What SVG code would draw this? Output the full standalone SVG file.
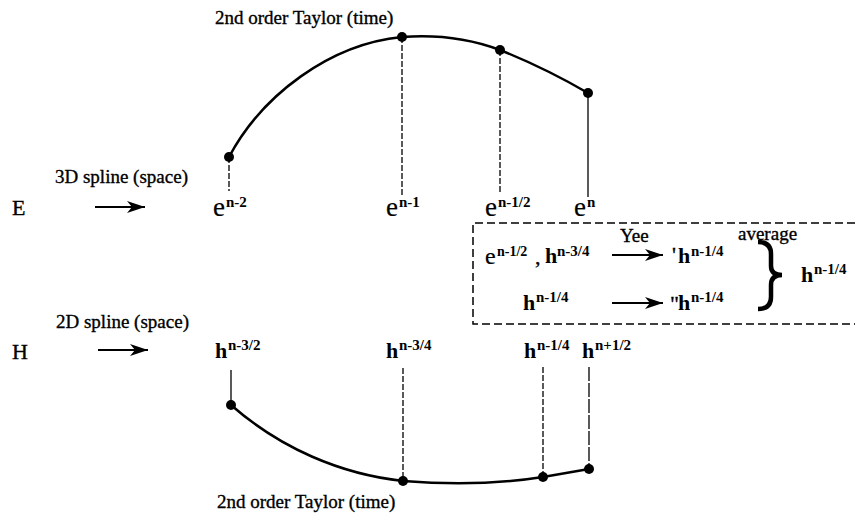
<svg xmlns="http://www.w3.org/2000/svg" width="855" height="516" viewBox="0 0 855 516">
<defs>
<marker id="ah" markerUnits="userSpaceOnUse" markerWidth="20" markerHeight="12" refX="18" refY="6" orient="auto">
<path d="M0,0 L18,6 L0,12 L5,6 Z" fill="#000"/>
</marker>
<style>
text{font-family:"Liberation Serif","Times New Roman",serif;fill:#000;stroke:#000;stroke-width:0.35}
.lbl{font-size:19px}
.big{font-size:22px}
.e{font-size:27px;stroke-width:0.2}
.h{font-size:22px;font-weight:bold;stroke-width:0}
.sup{font-size:15px;font-weight:bold;stroke-width:0}
.curve{fill:none;stroke:#000;stroke-width:2.5}
.dash{stroke:#000;stroke-width:1.3;stroke-dasharray:6 2;fill:none}
.solid{stroke:#000;stroke-width:1.3;fill:none}
.arrow{stroke:#000;stroke-width:2;fill:none;marker-end:url(#ah)}
.dot{fill:#000}
</style>
</defs>
<g id="connectors">
<path class="curve" d="M229,157 C262,95 330,44 402,37 Q455,33 500,50 Q545,68 588,93"/>
<path class="curve" d="M231,405 C280,448 340,474 403,481 Q480,487 543,477 L589,469"/>
<line class="dash" x1="229" y1="157" x2="229" y2="191"/>
<line class="dash" x1="402" y1="37" x2="402" y2="196"/>
<line class="dash" x1="500" y1="50" x2="500" y2="193"/>
<line class="solid" x1="588" y1="93" x2="588" y2="197"/>
<line class="solid" x1="231" y1="370" x2="231" y2="405"/>
<line class="dash" x1="403" y1="368" x2="403" y2="481"/>
<line class="dash" x1="543" y1="367" x2="543" y2="477"/>
<line class="dash" x1="589" y1="367" x2="589" y2="469" style="stroke-dasharray:14 2"/>
<line class="arrow" x1="95" y1="207" x2="145" y2="207"/>
<line class="arrow" x1="98" y1="350" x2="148" y2="350"/>
<line class="arrow" x1="612" y1="255" x2="663" y2="255"/>
<line class="arrow" x1="612" y1="303" x2="663" y2="303"/>
</g>
<g id="dots">
<circle class="dot" cx="229" cy="157" r="5"/>
<circle class="dot" cx="402" cy="37" r="5"/>
<circle class="dot" cx="500" cy="50" r="5"/>
<circle class="dot" cx="588" cy="93" r="5"/>
<circle class="dot" cx="231" cy="405" r="5"/>
<circle class="dot" cx="403" cy="481" r="5"/>
<circle class="dot" cx="543" cy="477" r="5"/>
<circle class="dot" cx="589" cy="469" r="5"/>
</g>
<g id="labels-top">
<text class="lbl" x="215" y="24">2nd order Taylor (time)</text>
<text class="lbl" x="55" y="183">3D spline (space)</text>
<text class="big" x="12" y="215">E</text>
</g>
<g id="e-labels">
<text class="e" x="213" y="216">e</text><text class="sup" x="226" y="207">n-2</text>
<text class="e" x="386" y="216">e</text><text class="sup" x="399" y="207">n-1</text>
<text class="e" x="485" y="216">e</text><text class="sup" x="498" y="207">n-1/2</text>
<text class="e" x="574" y="216">e</text><text class="sup" x="587" y="207">n</text>
</g>
<g id="box">
<path class="solid" d="M855,223 L473,223 L473,324 L855,324" style="stroke-width:1.5;stroke-dasharray:8 4"/>
<text class="e" x="485" y="264" style="font-size:24px">e</text><text class="sup" x="497" y="256" style="font-size:14px">n-1/2</text>
<text class="big" x="535" y="264">,</text>
<text class="h" x="545" y="263">h</text><text class="sup" x="557" y="256">n-3/4</text>
<text class="lbl" x="620" y="242">Yee</text>
<text class="big" x="672" y="262">'</text>
<text class="h" x="678" y="263">h</text><text class="sup" x="691" y="256">n-1/4</text>
<text class="lbl" x="738" y="240">average</text>
<path d="M758,242 Q771,242 771,254 L771,266 Q771,275 782,275 Q771,275 771,285 L771,297 Q771,309 758,309" fill="none" stroke="#000" stroke-width="4.5"/>
<text class="h" x="801" y="282">h</text><text class="sup" x="814" y="274">n-1/4</text>
<text class="h" x="523" y="310">h</text><text class="sup" x="536" y="302">n-1/4</text>
<text class="big" x="670" y="311">"</text>
<text class="h" x="678" y="310">h</text><text class="sup" x="691" y="302">n-1/4</text>
</g>
<g id="labels-bottom">
<text class="big" x="12" y="359">H</text>
<text class="lbl" x="56" y="328">2D spline (space)</text>
<text class="h" x="215" y="358">h</text><text class="sup" x="228" y="350">n-3/2</text>
<text class="h" x="386" y="358">h</text><text class="sup" x="399" y="350">n-3/4</text>
<text class="h" x="524" y="358">h</text><text class="sup" x="537" y="350">n-1/4</text>
<text class="h" x="582" y="358">h</text><text class="sup" x="595" y="350">n+1/2</text>
<text class="lbl" x="217" y="508">2nd order Taylor (time)</text>
</g>
</svg>
